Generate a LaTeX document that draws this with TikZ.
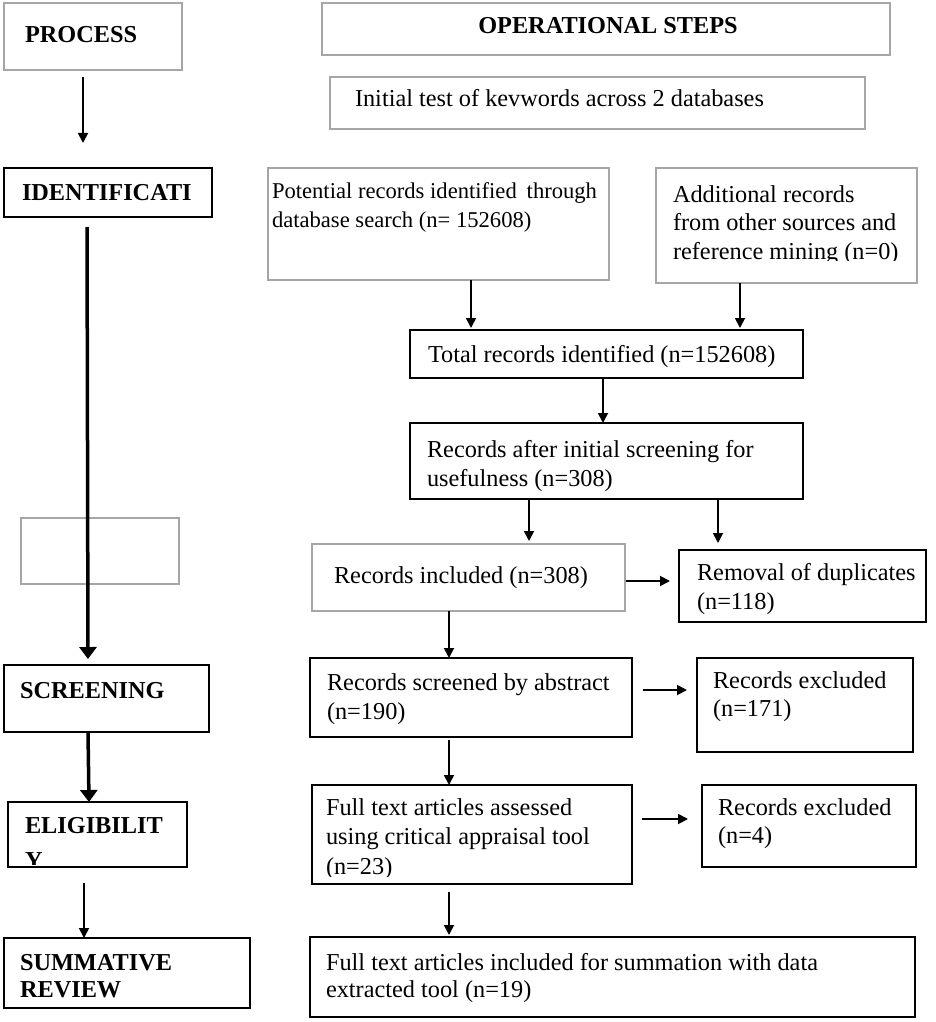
\documentclass[tikz,border=0pt]{standalone}
\usepackage{fontspec}
\setmainfont{Liberation Serif}
\usetikzlibrary{arrows.meta}
\newcommand{\twol}[2]{\vtop{\hbox{#1}\hbox{#2}}}
\newcommand{\threel}[3]{\vtop{\hbox{#1}\hbox{#2}\hbox{#3}}}
\begin{document}
\begin{tikzpicture}[x=1pt,y=-1pt,
  graybox/.style={draw=black!35, line width=1.3pt, inner sep=0pt, outer sep=0pt, anchor=north west},
  blackbox/.style={draw=black, line width=2pt, inner sep=0pt, outer sep=0pt, anchor=north west},
  txt/.style={inner sep=0pt, outer sep=0pt, anchor=base west, font=\fontsize{24.3}{29.5}\selectfont},
  btxt/.style={txt, font=\fontsize{24.3}{29.5}\selectfont\bfseries},
  arr/.style={line width=1.8pt, -{Triangle[length=10pt,width=10pt]}},
  tharr/.style={line width=3.5pt, -{Triangle[length=12pt,width=17pt]}}]
\useasboundingbox (0,0) rectangle (935,1022);
\fill[white] (0,0) rectangle (935,1022);

% left column boxes
\node[graybox, minimum width=178pt, minimum height=67pt] (proc) at (4,3) {};
\node[blackbox, minimum width=208pt, minimum height=49pt] (ident) at (4,168) {};
\node[graybox, minimum width=158pt, minimum height=66pt] (empty) at (21,518) {};
\node[blackbox, minimum width=205pt, minimum height=67pt] (screen) at (4,665) {};
\node[blackbox, minimum width=179pt, minimum height=65pt] (elig) at (8,802) {};
\node[blackbox, minimum width=246pt, minimum height=70pt] (summ) at (4,938) {};

% right column boxes
\node[graybox, minimum width=568pt, minimum height=52pt] (ops) at (322,3) {};
\node[graybox, minimum width=535pt, minimum height=52pt] (init) at (330,77) {};
\node[graybox, minimum width=341pt, minimum height=112pt] (pot) at (268,168) {};
\node[graybox, minimum width=261pt, minimum height=115pt] (add) at (656,168) {};
\node[blackbox, minimum width=393pt, minimum height=48pt] (total) at (410,330) {};
\node[blackbox, minimum width=393pt, minimum height=76pt] (after) at (410,423) {};
\node[graybox, minimum width=313pt, minimum height=67pt] (incl) at (312,544) {};
\node[blackbox, minimum width=247pt, minimum height=72pt] (remov) at (679,550) {};
\node[blackbox, minimum width=322pt, minimum height=79pt] (scr) at (310,658) {};
\node[blackbox, minimum width=216pt, minimum height=94pt] (exa) at (697,658) {};
\node[blackbox, minimum width=320pt, minimum height=99pt] (full) at (312,785) {};
\node[blackbox, minimum width=214pt, minimum height=82pt] (exb) at (702,785) {};
\node[blackbox, minimum width=605pt, minimum height=80pt] (final) at (310,937) {};

% texts
\node[btxt] (tproc) at (25,43) {PROCESS};
\node[btxt, anchor=base] (tops) at (608,34) {OPERATIONAL STEPS};
\node[txt] (tinit) at (355,107) {Initial test of kevwords across 2 databases};
\node[btxt] (tident) at (22,200) {IDENTIFICATI};
\node[txt, font=\fontsize{22.6}{29}\selectfont] (tpot) at (272,198) {\twol{\makebox[325pt][l]{Potential records identified\hfill through}}{database search (n= 152608)}};
\begin{scope}
  \clip (656,168) rectangle (917,260);
  \node[txt, font=\fontsize{24.3}{28.5}\selectfont] (tadd) at (673,202) {\threel{Additional records}{from other sources and}{reference mining (n=0)}};
\end{scope}
\node[txt] (ttotal) at (428,362) {Total records identified (n=152608)};
\node[txt] (tafter) at (427,457) {\twol{Records after initial screening for}{usefulness (n=308)}};
\node[txt] (tincl) at (334,583) {Records included (n=308)};
\node[txt] (tremov) at (697,580) {\twol{Removal of duplicates}{(n=118)}};
\node[txt] (tscr) at (327,690) {\twol{Records screened by abstract}{(n=190)}};
\node[txt, font=\fontsize{24.3}{28}\selectfont] (texa) at (713,688) {\twol{Records excluded}{(n=171)}};
\begin{scope}
  \clip (312,785) rectangle (632,876);
  \node[txt] (tfull) at (326,815) {\threel{Full text articles assessed}{using critical appraisal tool}{(n=23)}};
\end{scope}
\node[txt, font=\fontsize{24.3}{28}\selectfont] (texb) at (718,815) {\twol{Records excluded}{(n=4)}};
\node[txt, font=\fontsize{24.3}{27}\selectfont] (tfinal) at (326,970) {\twol{Full text articles included for summation with data}{extracted tool (n=19)}};
\node[btxt] (tscreen) at (20,698) {SCREENING};
\node[btxt] (telig) at (25,833) {ELIGIBILIT};
\begin{scope}
  \clip (8,802) rectangle (187,864);
  \node[btxt] (telig2) at (25,868) {Y};
\end{scope}
\node[btxt, font=\fontsize{24.3}{27}\selectfont\bfseries] (tsumm) at (20,970) {\twol{SUMMATIVE}{REVIEW}};

% left arrows
\draw[arr, shorten <=7pt, shorten >=25pt] (proc.south -| 83,0) -- (ident.north -| 83,0);
\draw[tharr, shorten <=10pt, shorten >=6pt] (ident.south -| 87,0) -- (screen.north -| 88,0);
\draw[tharr, shorten <=1pt] (screen.south -| 88,0) -- (elig.north -| 89,0);
\draw[arr, shorten <=16pt] (elig.south -| 84,0) -- (summ.north -| 84,0);

% right arrows
\draw[arr, shorten >=2pt] (pot.south -| 471,0) -- (total.north -| 471,0);
\draw[arr, shorten >=2pt] (add.south -| 740,0) -- (total.north -| 740,0);
\draw[arr] (total.south -| 603,0) -- (after.north -| 603,0);
\draw[arr, shorten >=3pt] (after.south -| 529,0) -- (incl.north -| 529,0);
\draw[arr, shorten >=7pt] (after.south -| 718,0) -- (remov.north -| 718,0);
\draw[arr, shorten <=1pt, shorten >=9pt] (incl.east |- 0,581) -- (remov.west |- 0,581);
\draw[arr] (incl.south -| 449,0) -- (scr.north -| 449,0);
\draw[arr, shorten <=11pt, shorten >=10pt] (scr.east |- 0,690) -- (exa.west |- 0,690);
\draw[arr, shorten <=3pt] (scr.south -| 449,0) -- (full.north -| 449,0);
\draw[arr, shorten <=10pt, shorten >=14pt] (full.east |- 0,819) -- (exb.west |- 0,819);
\draw[arr, shorten <=8pt, shorten >=2pt] (full.south -| 449,0) -- (final.north -| 449,0);
\end{tikzpicture}
\end{document}
